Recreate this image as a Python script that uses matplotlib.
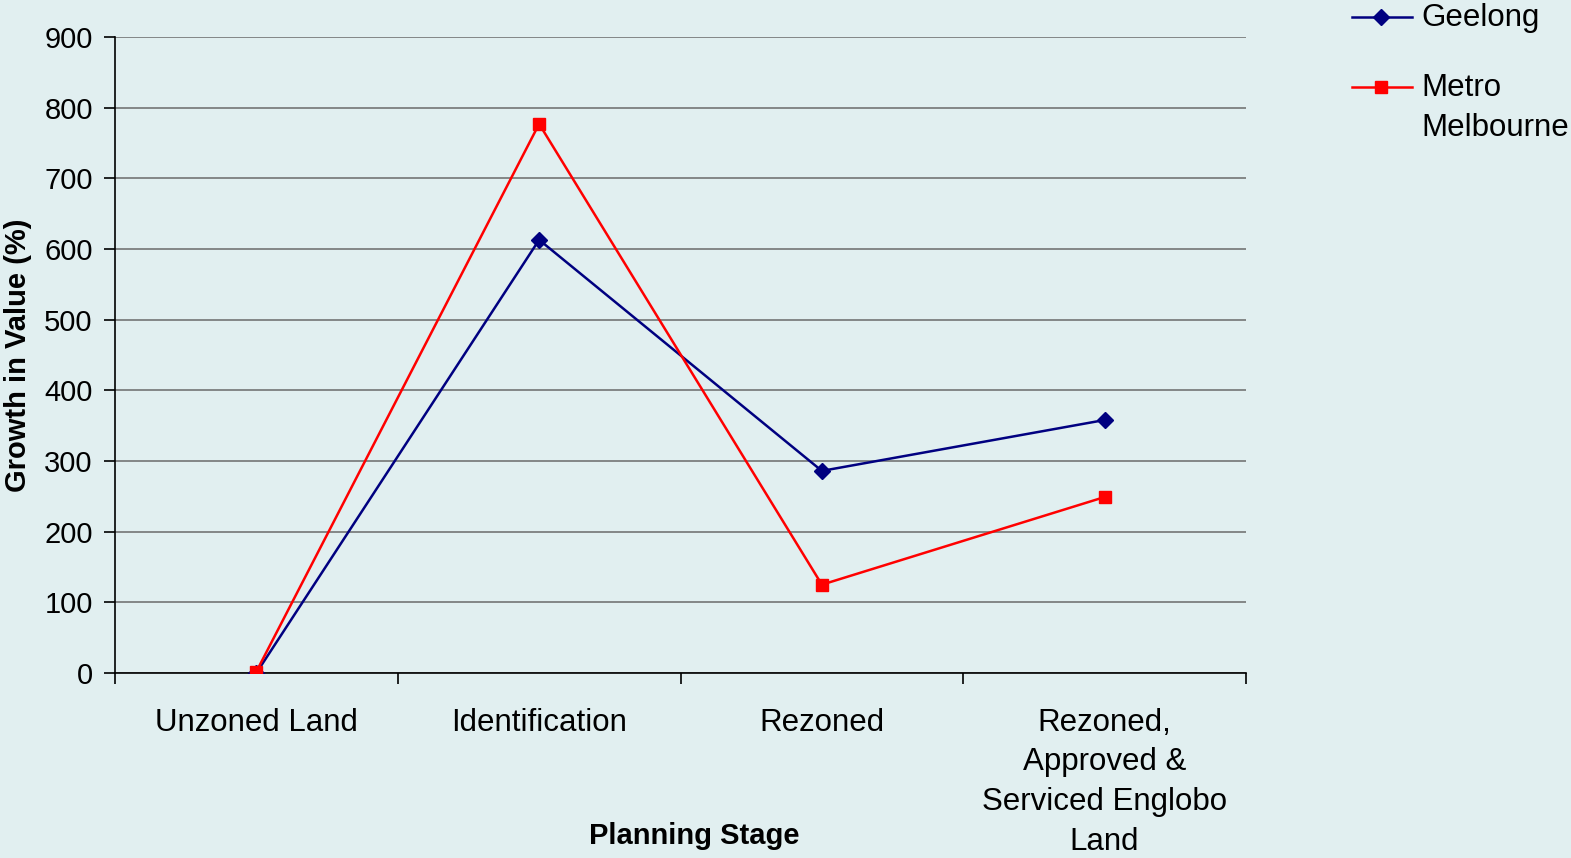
import numpy as np
import matplotlib.pyplot as plt
from matplotlib.lines import Line2D

# Chart data
stages = ['Unzoned Land', 'Identification', 'Rezoned',
          'Rezoned,\nApproved &\nServiced Englobo\nLand']
geelong = [0, 613, 286, 358]
metro_melbourne = [2, 777, 125, 249]
y_ticks = [0, 100, 200, 300, 400, 500, 600, 700, 800, 900]
series_names = ['Geelong', 'Metro\nMelbourne']

plt.rcParams['font.family'] = ['Liberation Sans', 'DejaVu Sans']
bg = '#e1eff0'
navy = '#000080'
red = '#ff0000'

fig = plt.figure(figsize=(15.71, 8.58), dpi=100, facecolor=bg)
ax = fig.add_axes([115 / 1571, 1 - 673 / 858, 1131 / 1571, 636 / 858])
ax.set_facecolor(bg)

x = np.arange(len(stages))
ax.plot(x, geelong, color=navy, lw=1.8, marker='D', markersize=8.5, zorder=3)
ax.plot(x, metro_melbourne, color=red, lw=1.8, marker='s', markersize=9, zorder=4)

ax.set_xlim(-0.5, len(stages) - 0.5)
ax.set_ylim(0, 900)
ax.set_yticks(y_ticks)
ax.yaxis.grid(True, color='#6a6a6a', lw=1.1)
ax.set_axisbelow(True)

# category boundaries as major ticks, names centred on minor ticks
ax.set_xticks(np.arange(-0.5, len(stages), 1.0))
ax.set_xticklabels([])
ax.set_xticks(x, minor=True)
ax.set_xticklabels(stages, minor=True, fontsize=22.5, linespacing=1.42, va='top')
ax.tick_params(axis='x', which='minor', length=0, pad=25)
ax.tick_params(axis='x', which='major', length=8, width=1.2, direction='out')
ax.tick_params(axis='y', length=8, width=1.2, labelsize=21, pad=8)

for side in ['top', 'right']:
    ax.spines[side].set_visible(False)
for side in ['left', 'bottom']:
    ax.spines[side].set_color('black')
    ax.spines[side].set_linewidth(1.2)

ax.set_ylabel('Growth in Value (%)', fontsize=21, fontweight='bold', labelpad=9)
fig.text(694 / 1571, 1 - 836 / 858, 'Planning Stage', fontsize=21,
         fontweight='bold', ha='center', va='center')

# legend drawn by hand so the sample sits on the first text line
legend_styles = [(navy, 'D', 8.5), (red, 's', 9)]
legend_rows = [17, 87]
for name, (col, mk, ms), row in zip(series_names, legend_styles, legend_rows):
    yy = 1 - row / 858
    fig.add_artist(Line2D([1352 / 1571, 1412 / 1571], [yy, yy], color=col, lw=1.8,
                          transform=fig.transFigure))
    fig.add_artist(Line2D([1381 / 1571], [yy], color=col, marker=mk, markersize=ms,
                          transform=fig.transFigure))
    fig.text(1421 / 1571, yy + 0.0165, name, fontsize=22.5, ha='left', va='top',
             linespacing=1.42)

fig.savefig('out.png', dpi=100, facecolor=bg)
